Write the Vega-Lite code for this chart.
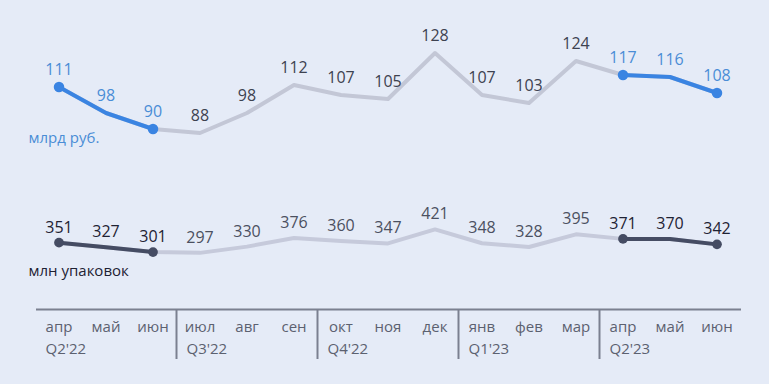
{
  "$schema": "https://vega.github.io/schema/vega-lite/v6.json",
  "width": 705,
  "height": 309,
  "autosize": {"type": "none"},
  "padding": {"left": 35.5, "top": 0, "right": 28.5, "bottom": 75},
  "background": "#e5ebf7",
  "config": {
    "view": {"stroke": null},
    "font": "Open Sans",
    "text": {"font": "Open Sans"}
  },
  "data": {
    "values": [
      {"k": "апр 22", "m": "апр", "q": "Q2'22", "rev": 111, "packs": 351, "h": "Q2'22"},
      {"k": "май 22", "m": "май", "q": "Q2'22", "rev": 98, "packs": 327, "h": "Q2'22"},
      {"k": "июн 22", "m": "июн", "q": "Q2'22", "rev": 90, "packs": 301, "h": "Q2'22"},
      {"k": "июл 22", "m": "июл", "q": "Q3'22", "rev": 88, "packs": 297, "h": null},
      {"k": "авг 22", "m": "авг", "q": "Q3'22", "rev": 98, "packs": 330, "h": null},
      {"k": "сен 22", "m": "сен", "q": "Q3'22", "rev": 112, "packs": 376, "h": null},
      {"k": "окт 22", "m": "окт", "q": "Q4'22", "rev": 107, "packs": 360, "h": null},
      {"k": "ноя 22", "m": "ноя", "q": "Q4'22", "rev": 105, "packs": 347, "h": null},
      {"k": "дек 22", "m": "дек", "q": "Q4'22", "rev": 128, "packs": 421, "h": null},
      {"k": "янв 23", "m": "янв", "q": "Q1'23", "rev": 107, "packs": 348, "h": null},
      {"k": "фев 23", "m": "фев", "q": "Q1'23", "rev": 103, "packs": 328, "h": null},
      {"k": "мар 23", "m": "мар", "q": "Q1'23", "rev": 124, "packs": 395, "h": null},
      {"k": "апр 23", "m": "апр", "q": "Q2'23", "rev": 117, "packs": 371, "h": "Q2'23"},
      {"k": "май 23", "m": "май", "q": "Q2'23", "rev": 116, "packs": 370, "h": "Q2'23"},
      {"k": "июн 23", "m": "июн", "q": "Q2'23", "rev": 108, "packs": 342, "h": "Q2'23"}
    ]
  },
  "encoding": {
    "x": {
      "field": "k",
      "type": "ordinal",
      "bandPosition": 0.5,
      "scale": {
        "type": "band",
        "paddingInner": 0,
        "paddingOuter": 0,
        "domain": ["апр 22", "май 22", "июн 22", "июл 22", "авг 22", "сен 22", "окт 22", "ноя 22", "дек 22", "янв 23", "фев 23", "мар 23", "апр 23", "май 23", "июн 23"]
      },
      "axis": {
        "title": null,
        "ticks": false,
        "domainColor": "#7b8090",
        "domainWidth": 2,
        "labelExpr": "split(datum.label, ' ')[0]",
        "labelFont": "Open Sans",
        "labelFontSize": 15,
        "labelColor": "#5c6170",
        "labelPadding": 10,
        "labelAngle": 0,
        "grid": false
      }
    }
  },
  "layer": [
    {
      "mark": {"type": "line", "color": "#c3c7d6", "strokeWidth": 4, "strokeJoin": "round", "strokeCap": "round"},
      "encoding": {"y": {"field": "rev", "type": "quantitative", "scale": {"domain": [0, 154.5], "zero": false, "nice": false}, "axis": null}}
    },
    {
      "transform": [{"filter": "datum.h != null"}],
      "mark": {"type": "line", "color": "#3a84e2", "strokeWidth": 4, "strokeJoin": "round", "strokeCap": "round"},
      "encoding": {
        "y": {"field": "rev", "type": "quantitative", "scale": {"domain": [0, 154.5], "zero": false, "nice": false}, "axis": null},
        "detail": {"field": "h"}
      }
    },
    {
      "transform": [{"filter": "datum.h != null && datum.m != 'май'"}],
      "mark": {"type": "point", "filled": true, "opacity": 1, "color": "#3a84e2", "size": 110},
      "encoding": {"y": {"field": "rev", "type": "quantitative", "scale": {"domain": [0, 154.5], "zero": false, "nice": false}, "axis": null}}
    },
    {
      "mark": {"type": "text", "fontSize": 16, "dy": -17, "baseline": "middle", "align": "center"},
      "encoding": {
        "y": {"field": "rev", "type": "quantitative", "scale": {"domain": [0, 154.5], "zero": false, "nice": false}, "axis": null},
        "text": {"field": "rev"},
        "color": {"condition": {"test": "datum.h != null", "value": "#4a8dd6"}, "value": "#3d4250"}
      }
    },
    {
      "mark": {"type": "line", "color": "#c6cadb", "strokeWidth": 4, "strokeJoin": "round", "strokeCap": "round"},
      "encoding": {"y": {"field": "packs", "type": "quantitative", "scale": {"domain": [0, 1635], "zero": false, "nice": false}, "axis": null}}
    },
    {
      "transform": [{"filter": "datum.h != null"}],
      "mark": {"type": "line", "color": "#454c63", "strokeWidth": 4, "strokeJoin": "round", "strokeCap": "round"},
      "encoding": {
        "y": {"field": "packs", "type": "quantitative", "scale": {"domain": [0, 1635], "zero": false, "nice": false}, "axis": null},
        "detail": {"field": "h"}
      }
    },
    {
      "transform": [{"filter": "datum.h != null && datum.m != 'май'"}],
      "mark": {"type": "point", "filled": true, "opacity": 1, "color": "#454c63", "size": 95},
      "encoding": {"y": {"field": "packs", "type": "quantitative", "scale": {"domain": [0, 1635], "zero": false, "nice": false}, "axis": null}}
    },
    {
      "mark": {"type": "text", "fontSize": 16, "dy": -15, "baseline": "middle", "align": "center"},
      "encoding": {
        "y": {"field": "packs", "type": "quantitative", "scale": {"domain": [0, 1635], "zero": false, "nice": false}, "axis": null},
        "text": {"field": "packs"},
        "color": {"condition": {"test": "datum.h != null", "value": "#1e2233"}, "value": "#4b5060"}
      }
    },
    {
      "transform": [{"filter": "indexof(['июл 22','окт 22','янв 23','апр 23'], datum.k) >= 0"}],
      "mark": {"type": "rule", "color": "#7b8090", "strokeWidth": 2},
      "encoding": {
        "x": {"field": "k", "type": "ordinal", "bandPosition": 0},
        "y": {"datum": 0, "type": "quantitative", "scale": {"domain": [0, 154.5], "zero": false, "nice": false}, "axis": null},
        "y2": {"datum": -25}
      }
    },
    {
      "transform": [{"filter": "indexof(['апр 22','июл 22','окт 22','янв 23','апр 23'], datum.k) >= 0"}],
      "mark": {"type": "text", "fontSize": 15, "align": "left", "baseline": "middle", "dx": 10, "color": "#5c6170"},
      "encoding": {
        "x": {"field": "k", "type": "ordinal", "bandPosition": 0},
        "y": {"datum": -20, "type": "quantitative", "scale": {"domain": [0, 154.5], "zero": false, "nice": false}, "axis": null},
        "text": {"field": "q"}
      }
    },
    {
      "transform": [{"filter": "datum.k == 'апр 22'"}],
      "mark": {"type": "text", "fontSize": 15, "align": "left", "baseline": "middle", "dx": -7, "color": "#4a8dd6"},
      "encoding": {
        "x": {"field": "k", "type": "ordinal", "bandPosition": 0},
        "y": {"datum": 85.5, "type": "quantitative", "scale": {"domain": [0, 154.5], "zero": false, "nice": false}, "axis": null},
        "text": {"value": "млрд руб."}
      }
    },
    {
      "transform": [{"filter": "datum.k == 'апр 22'"}],
      "mark": {"type": "text", "fontSize": 15, "align": "left", "baseline": "middle", "dx": -7, "color": "#1e2233"},
      "encoding": {
        "x": {"field": "k", "type": "ordinal", "bandPosition": 0},
        "y": {"datum": 201, "type": "quantitative", "scale": {"domain": [0, 1635], "zero": false, "nice": false}, "axis": null},
        "text": {"value": "млн упаковок"}
      }
    }
  ],
  "resolve": {"scale": {"y": "independent"}}
}
